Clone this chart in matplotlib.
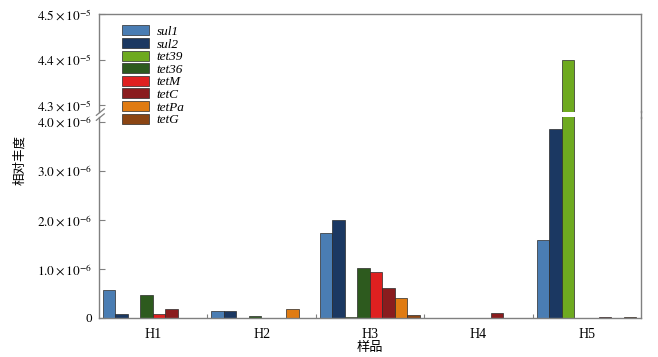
import matplotlib
matplotlib.use("Agg")
import matplotlib.pyplot as plt
import numpy as np

plt.rcParams['font.family'] = ['Liberation Serif', 'Noto Sans CJK SC']
plt.rcParams['mathtext.fontset'] = 'stix'

samples = ['H1', 'H2', 'H3', 'H4', 'H5']
genes = ['sul1', 'sul2', 'tet39', 'tet36', 'tetM', 'tetC', 'tetPa', 'tetG']
colors = ['#4a7db3', '#1b3862', '#6eaa1f', '#2d5a1e', '#df2020', '#8a1c1e', '#e07b12', '#8b4513']

# relative abundance, units of 1e-6
sul1 = [0.57, 0.14, 1.74, 0.0, 1.59]
sul2 = [0.08, 0.14, 2.00, 0.0, 3.86]
tet39 = [0.0, 0.0, 0.03, 0.0, 44.0]
tet36 = [0.47, 0.04, 1.01, 0.0, 0.0]
tetM = [0.09, 0.0, 0.94, 0.0, 0.0]
tetC = [0.18, 0.0, 0.61, 0.11, 0.03]
tetPa = [0.0, 0.19, 0.41, 0.0, 0.0]
tetG = [0.0, 0.0, 0.07, 0.0, 0.03]
series = [sul1, sul2, tet39, tet36, tetM, tetC, tetPa, tetG]

fig = plt.figure(figsize=(6.58, 3.57), dpi=100)
L, R = 99 / 658, 641 / 658
ax_top = fig.add_axes([L, 1 - 112 / 357, R - L, 98 / 357])
ax_bot = fig.add_axes([L, 1 - 318 / 357, R - L, 201 / 357])

x = np.arange(len(samples))
w = 0.115
for j, (g, vals) in enumerate(zip(genes, series)):
    v = np.array(vals) * 1e-6
    for ax in (ax_top, ax_bot):
        ax.bar(x + 0.037 + j * w, v, width=w, align='edge', color=colors[j],
               edgecolor='#2a2a2a', linewidth=0.5, label=g if ax is ax_bot else None)

ax_bot.set_ylim(0, 4.1e-6)
ax_top.set_ylim(4.285e-5, 4.5e-5)
for ax in (ax_top, ax_bot):
    ax.set_xlim(0, 5)
    for s in ax.spines.values():
        s.set_color('#808080')
        s.set_linewidth(1.0)
    ax.tick_params(axis='y', direction='in', length=4, color='#808080', labelsize=9.5, pad=5)
ax_top.spines['bottom'].set_visible(False)
ax_bot.spines['top'].set_visible(False)

ax_bot.set_yticks([0, 1e-6, 2e-6, 3e-6, 4e-6])
ax_bot.set_yticklabels(['0', r'$1.0\times10^{-6}$', r'$2.0\times10^{-6}$',
                        r'$3.0\times10^{-6}$', r'$4.0\times10^{-6}$'])
ax_top.set_yticks([4.3e-5, 4.4e-5, 4.5e-5])
ax_top.set_yticklabels([r'$4.3\times10^{-5}$', r'$4.4\times10^{-5}$', r'$4.5\times10^{-5}$'])

ax_top.set_xticks([])
ax_bot.set_xticks([1, 2, 3, 4])
ax_bot.set_xticklabels([])
ax_bot.tick_params(axis='x', which='major', direction='in', length=3, color='#808080')
ax_bot.set_xticks(x + 0.5, minor=True)
ax_bot.set_xticklabels(samples, minor=True, fontsize=10)
ax_bot.tick_params(axis='x', which='minor', length=0, pad=7)

# break marks on left axis
for yy in (1 - 111 / 357, 1 - 116 / 357):
    fig.add_artist(plt.Line2D([L - 0.004, L + 0.008], [yy - 0.012, yy + 0.006],
                              color='#808080', linewidth=0.9))
fig.add_artist(plt.Line2D([R, R], [1 - 118 / 357, 1 - 111 / 357], color='#808080', linewidth=1.0))

fig.text(0.5 * (L + R), 1 - 348 / 357, '样品', ha='center', va='center', fontsize=9.5,
         family=['Noto Sans CJK SC'])
fig.text(20 / 658, 1 - 160 / 357, '相对丰度', ha='center', va='center', rotation=90,
         fontsize=9, family=['Noto Sans CJK SC'])

handles, labels = ax_bot.get_legend_handles_labels()
fig.legend(handles, labels, loc='upper left', bbox_to_anchor=(113 / 658, 1 - 16 / 357),
           frameon=False, prop={'style': 'italic', 'size': 9.5}, handlelength=2.0,
           handleheight=0.8, labelspacing=0.0, handletextpad=0.6, borderpad=0.2)

fig.savefig('out.png', dpi=100)
